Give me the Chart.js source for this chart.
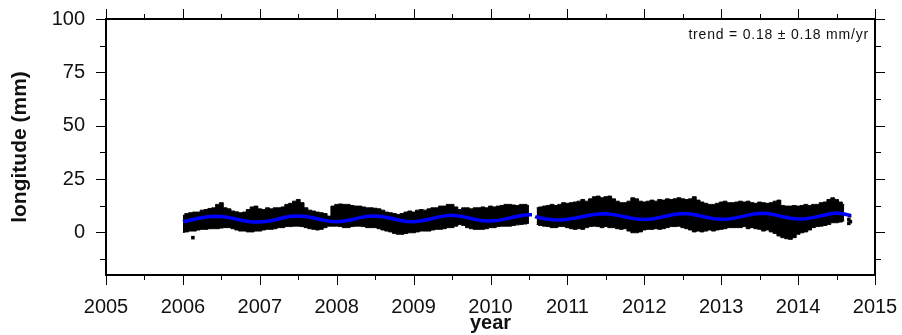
<!DOCTYPE html>
<html>
<head>
<meta charset="utf-8">
<script src="https://cdn.jsdelivr.net/npm/chart.js@4"></script>
<style>
  html, body { margin: 0; padding: 0; background: #fff; }
  #wrap { width: 902px; height: 335px; }
</style>
</head>
<body>
<div id="wrap"><canvas id="chart" width="902" height="335"></canvas></div>
<script>
// axis ticks
const xTicks = [2005, 2006, 2007, 2008, 2009, 2010, 2011, 2012, 2013, 2014, 2015];
const yTicks = [0, 25, 50, 75, 100];
const trendText = "trend = 0.18 \u00b1 0.18 mm/yr";

// daily solutions, read off as the upper / lower edge of the point cloud (mm)
// one value every 0.05 yr starting 2006.00, null = data gap
const cloudStart = 2006.0;
const cloudStep = 0.05;
const cloudTop = [
  8.0, 8.8, 9.2, 9.5, 9.5, 10.4, 10.7, 11.2, 11.5, 13.1, 13.9, 11.5, 11.0, 10.0, 9.6, 9.2, 9.5, 10.7, 11.9, 12.3,
  11.0, 10.7, 11.5, 11.0, 11.5, 11.5, 11.9, 13.1, 13.6, 14.6, 15.4, 13.9, 11.5, 10.4, 10.0, 9.5, 9.2, 8.8, 7.6, 12.3,
  13.1, 13.3, 13.1, 13.1, 12.6, 12.3, 12.3, 11.9, 11.5, 11.5, 11.3, 11.0, 10.4, 9.5, 9.2, 8.8, 8.4, 8.8, 9.5, 10.0,
  9.5, 10.4, 10.7, 10.4, 11.0, 11.5, 11.5, 12.3, 12.3, 13.1, 13.1, 11.9, 10.7, 11.5, 11.5, 11.0, 11.5, 11.5, 11.9, 11.5,
  12.3, 11.9, 12.3, 12.6, 13.1, 13.1, 12.8, 12.6, 13.1, 13.1, 12.6, null, 11.5, 11.9, 12.3, 12.6, 13.1, 12.6, 13.1, 13.9,
  13.6, 13.9, 14.2, 14.6, 15.4, 14.6, 15.7, 16.7, 17.0, 16.2, 16.7, 17.0, 15.7, 14.6, 13.9, 13.9, 14.6, 16.2, 15.7, 14.6,
  14.2, 14.6, 15.1, 14.6, 15.4, 15.1, 15.7, 15.4, 15.7, 16.2, 15.7, 15.4, 15.7, 16.7, 15.1, 14.2, 13.6, 13.1, 13.1, 13.6,
  14.2, 14.6, 13.9, 13.9, 14.2, 14.6, 14.2, 14.6, 13.9, 13.6, 14.2, 13.9, 13.6, 13.9, 14.6, 15.1, 12.6, 12.3, 12.3, 12.6,
  12.3, 12.6, 13.1, 12.6, 13.1, 13.1, 13.9, 14.2, 15.4, 16.2, 15.4, 14.2, 13.1
];
const cloudBottom = [
  0.0, 0.2, 0.6, 0.6, 1.1, 1.4, 1.4, 1.7, 1.7, 1.7, 2.0, 2.2, 2.2, 1.7, 1.1, 0.6, 0.6, 0.2, 0.2, 0.6,
  0.6, 1.1, 1.4, 1.4, 1.7, 2.2, 2.2, 2.7, 2.7, 2.9, 2.9, 2.7, 2.2, 1.7, 1.4, 1.1, 1.4, 2.2, 2.9, 2.9,
  2.9, 2.7, 2.2, 2.2, 2.7, 2.9, 2.9, 2.7, 2.2, 2.2, 2.2, 1.7, 1.1, 0.6, 0.2, -0.5, -0.9, -0.9, -0.5, -0.2,
  -0.2, 0.2, 0.6, 0.6, 0.6, 1.1, 1.4, 1.4, 1.7, 2.2, 2.2, 2.9, 3.7, 3.2, 2.2, 1.7, 1.4, 1.4, 1.4, 1.7,
  2.2, 2.2, 2.7, 2.9, 2.9, 2.9, 3.2, 3.5, 3.7, 3.9, 4.2, null, 3.7, 3.2, 2.9, 2.7, 2.2, 2.2, 2.7, 2.7,
  2.2, 1.7, 1.4, 1.7, 1.4, 2.2, 2.7, 2.9, 2.7, 2.2, 2.7, 2.2, 2.2, 1.7, 1.4, 1.7, 0.6, -0.2, -0.2, 0.2,
  1.1, 1.4, 1.4, 1.7, 1.4, 1.7, 2.2, 2.7, 2.7, 2.9, 2.2, 1.7, 1.1, 0.2, 0.6, 0.2, 0.6, 1.1, 0.6, 1.1,
  1.4, 1.7, 2.2, 2.2, 2.2, 2.2, 2.7, 1.7, 2.2, 1.7, 1.4, 0.6, 1.1, 0.2, -0.5, -1.7, -2.5, -3.0, -3.3, -2.5,
  -0.9, -0.2, 0.2, 1.1, 2.2, 2.7, 2.9, 3.2, 3.7, 4.5, 4.5, 4.8, 5.3
];

// isolated solutions outside the main cloud
const strayYears = [2006.13, 2014.66, 2014.66, 2014.67, 2014.68];
const strayValues = [-2.5, 4.2, 6.0, 7.8, 5.0];

// fitted model (trend + annual term)
const fitYears = [
  2006.0, 2006.1, 2006.2, 2006.3, 2006.4, 2006.5, 2006.6, 2006.7, 2006.8, 2006.9,
  2007.0, 2007.1, 2007.2, 2007.3, 2007.4, 2007.5, 2007.6, 2007.7, 2007.8, 2007.9,
  2008.0, 2008.1, 2008.2, 2008.3, 2008.4, 2008.5, 2008.6, 2008.7, 2008.8, 2008.9,
  2009.0, 2009.1, 2009.2, 2009.3, 2009.4, 2009.5, 2009.6, 2009.7, 2009.8, 2009.9,
  2010.0, 2010.1, 2010.2, 2010.3, 2010.4, 2010.5, 2010.54, 2010.56, 2010.58, 2010.6, 2010.7, 2010.8, 2010.9,
  2011.0, 2011.1, 2011.2, 2011.3, 2011.4, 2011.5, 2011.6, 2011.7, 2011.8, 2011.9,
  2012.0, 2012.1, 2012.2, 2012.3, 2012.4, 2012.5, 2012.6, 2012.7, 2012.8, 2012.9,
  2013.0, 2013.1, 2013.2, 2013.3, 2013.4, 2013.5, 2013.6, 2013.7, 2013.8, 2013.9,
  2014.0, 2014.1, 2014.2, 2014.3, 2014.4, 2014.5, 2014.6, 2014.68
];
const fitValues = [
  5.0, 5.8, 6.6, 7.2, 7.5, 7.4, 6.9, 6.1, 5.3, 4.8,
  4.8, 5.2, 5.9, 6.8, 7.5, 7.7, 7.4, 6.7, 5.9, 5.2,
  5.0, 5.3, 6.0, 6.9, 7.5, 7.7, 7.3, 6.6, 5.8, 5.1,
  5.0, 5.4, 6.1, 7.0, 7.7, 8.0, 7.6, 6.9, 6.0, 5.4,
  5.3, 5.6, 6.3, 7.2, 7.9, 8.3, 8.3, null, 7.4, 7.1, 6.4, 5.9, 5.8,
  6.1, 6.7, 7.4, 8.1, 8.6, 8.7, 8.3, 7.6, 6.8, 6.2,
  6.0, 6.3, 7.0, 7.8, 8.5, 8.8, 8.6, 7.9, 7.1, 6.4,
  6.1, 6.3, 6.9, 7.7, 8.5, 8.9, 8.8, 8.2, 7.3, 6.6,
  6.3, 6.4, 7.0, 7.8, 8.6, 9.0, 8.6, 7.9
];

const toPoints = (xs, ys) => xs.map((x, i) => ({ x, y: ys[i] }));
const cloudPoints = (vals) =>
  vals.map((v, i) => ({ x: +(cloudStart + i * cloudStep).toFixed(2), y: v }));

const FONT = '"Liberation Sans", Arial, Helvetica, sans-serif';

// frame, outward tick marks on all four sides and the trend note
const framePlugin = {
  id: "frame",
  afterDatasetsDraw(chart) {
    const { ctx, chartArea: a, scales } = chart;
    const xs = scales.x;
    const ys = scales.y;
    ctx.save();
    ctx.strokeStyle = "#000";
    ctx.lineWidth = 1;
    ctx.beginPath();
    const xAll = [];
    xTicks.forEach((t, i) => {
      xAll.push([t, 10]);
      if (i < xTicks.length - 1) xAll.push([(t + xTicks[i + 1]) / 2, 5]);
    });
    for (const [t, len] of xAll) {
      const px = Math.round(xs.getPixelForValue(t)) + 0.5;
      ctx.moveTo(px, a.bottom);
      ctx.lineTo(px, a.bottom + len);
      ctx.moveTo(px, a.top);
      ctx.lineTo(px, a.top - len);
    }
    const yAll = [[-12.5, 6]];
    yTicks.forEach((t, i) => {
      yAll.push([t, 10]);
      if (i < yTicks.length - 1) yAll.push([(t + yTicks[i + 1]) / 2, 6]);
    });
    for (const [t, len] of yAll) {
      const py = Math.round(ys.getPixelForValue(t)) + 0.5;
      ctx.moveTo(a.left, py);
      ctx.lineTo(a.left - len, py);
      ctx.moveTo(a.right, py);
      ctx.lineTo(a.right + len, py);
    }
    ctx.stroke();
    ctx.lineWidth = 2;
    ctx.strokeRect(a.left, a.top, a.right - a.left, a.bottom - a.top);

    ctx.fillStyle = "#111";
    ctx.font = "14px " + FONT;
    ctx.letterSpacing = "0.8px";
    ctx.textAlign = "right";
    ctx.textBaseline = "alphabetic";
    ctx.fillText(trendText, a.right - 6, a.top + 20);
    ctx.restore();
  },
};

new Chart(document.getElementById("chart"), {
  type: "line",
  data: {
    datasets: [
      {
        label: "model",
        data: toPoints(fitYears, fitValues),
        borderColor: "#0000ff",
        borderWidth: 3.5,
        pointRadius: 0,
        spanGaps: false,
        fill: false,
        order: 0,
      },
      {
        label: "stray",
        type: "scatter",
        data: toPoints(strayYears, strayValues),
        pointStyle: "rect",
        pointRadius: 2.5,
        backgroundColor: "#000",
        borderColor: "#000",
        borderWidth: 0,
        order: 1,
      },
      {
        label: "top",
        data: cloudPoints(cloudTop),
        borderColor: "#000",
        backgroundColor: "#000",
        borderWidth: 1,
        pointRadius: 0,
        stepped: "middle",
        spanGaps: false,
        fill: "+1",
        order: 2,
      },
      {
        label: "bottom",
        data: cloudPoints(cloudBottom),
        borderColor: "#000",
        backgroundColor: "#000",
        borderWidth: 1,
        pointRadius: 0,
        stepped: "middle",
        spanGaps: false,
        fill: false,
        order: 3,
      },
    ],
  },
  options: {
    responsive: false,
    animation: false,
    layout: { padding: { top: 19, right: 27, left: 0, bottom: 0 } },
    plugins: {
      legend: { display: false },
      tooltip: { enabled: false },
    },
    scales: {
      x: {
        type: "linear",
        min: 2005,
        max: 2015,
        grid: { display: false, drawTicks: false },
        border: { display: false },
        afterBuildTicks: (s) => { s.ticks = xTicks.map((v) => ({ value: v })); },
        afterFit: (s) => {
          s.height = 60;
          s.paddingLeft = 0;
          s.paddingRight = 0;
        },
        ticks: {
          padding: 20,
          maxRotation: 0,
          autoSkip: false,
          color: "#111",
          font: { family: FONT, size: 20 },
          callback: (v) => String(v),
        },
        title: {
          display: true,
          text: "year",
          color: "#111",
          font: { family: FONT, size: 20, weight: "bold", lineHeight: 1.2 },
          padding: { top: 0, bottom: 0 },
        },
      },
      y: {
        min: -20,
        max: 100,
        grid: { display: false, drawTicks: false },
        border: { display: false },
        afterBuildTicks: (s) => { s.ticks = yTicks.map((v) => ({ value: v })); },
        afterFit: (s) => {
          s.width = 106;
          s.paddingTop = 0;
          s.paddingBottom = 0;
        },
        ticks: {
          padding: 21,
          color: "#111",
          font: { family: FONT, size: 20 },
          callback: (v) => String(v),
        },
        title: {
          display: true,
          text: "longitude (mm)",
          color: "#111",
          font: { family: FONT, size: 21, weight: "bold", lineHeight: 1.2 },
          padding: { top: 8, bottom: 0 },
        },
      },
    },
  },
  plugins: [framePlugin],
});
</script>
</body>
</html>
